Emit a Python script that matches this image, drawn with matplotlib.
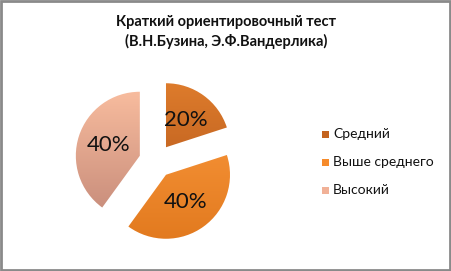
import matplotlib.pyplot as plt
import numpy as np
from matplotlib.colors import LinearSegmentedColormap
from matplotlib.patches import Rectangle

title = 'Краткий ориентировочный тест\n(В.Н.Бузина, Э.Ф.Вандерлика)'
labels = ['Средний', 'Выше среднего', 'Высокий']
values = [20, 40, 40]
top_colors = ['#DE7C2C', '#FA973B', '#F8BC9E']
bottom_colors = ['#B3561B', '#E27A1F', '#C58A79']
legend_colors = ['#C4631E', '#F68B2B', '#F1B197']

plt.rcParams['font.family'] = ['Lato', 'DejaVu Sans']

fig = plt.figure(figsize=(4.52, 2.71), dpi=100)
ax = fig.add_axes([0, 0, 1, 1])
ax.set_xlim(0, 452)
ax.set_ylim(0, 271)
ax.set_aspect('equal')
ax.axis('off')

wedges, texts, autotexts = ax.pie(
    values, center=(156, 110), radius=64, explode=[17, 17, 17],
    startangle=90, counterclock=False, autopct='%1.0f%%', pctdistance=0.52,
    colors=legend_colors, textprops={'fontsize': 16, 'color': '#111111'},
    wedgeprops={'linewidth': 0})
ax.set_xlim(0, 452)
ax.set_ylim(0, 271)

# vertical gradient fill inside each wedge
for w, c1, c2 in zip(wedges, top_colors, bottom_colors):
    cmap = LinearSegmentedColormap.from_list('g', [c2, c1])
    grad = np.linspace(0, 1, 100).reshape(-1, 1)
    x0, y0 = w.center
    img = ax.imshow(grad, cmap=cmap, origin='lower', aspect='auto',
                    extent=(x0 - 66, x0 + 66, y0 - 66, y0 + 66), zorder=1.5)
    img.set_clip_path(w)
    w.set_alpha(0)
for t in autotexts:
    t.set_zorder(3)
ax.set_xlim(0, 452)
ax.set_ylim(0, 271)

fig.text(0.5, 1 - 32 / 271, title, ha='center', va='center',
         fontsize=10.5, fontweight='bold', linespacing=1.35, color='#111111')

for i, (lab, col) in enumerate(zip(labels, legend_colors)):
    y = 271 - (134 + 28 * i)
    ax.add_patch(Rectangle((322, y - 3.5), 7, 7, color=col, lw=0))
    ax.text(333, y, lab, va='center', ha='left', fontsize=10, color='#111111')

# chart border
fig.patches.append(Rectangle((0.002, 0.004), 0.994, 0.992, transform=fig.transFigure,
                             fill=False, edgecolor='#8a8a8a', lw=2))

fig.savefig('out.png', dpi=100)
